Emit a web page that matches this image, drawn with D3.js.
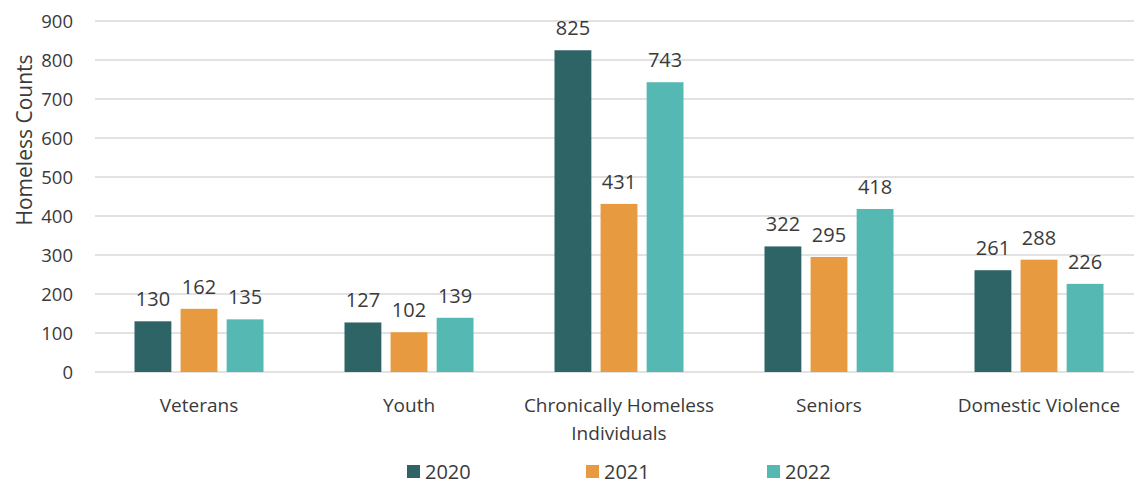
<!DOCTYPE html>
<html><head><meta charset="utf-8">
<script src="https://cdn.jsdelivr.net/npm/d3@7"></script>
<style>body{margin:0;background:#fff}svg{display:block}text{font-family:"Open Sans",Lato,sans-serif;fill:#3a3a3a}</style>
</head><body><svg id="c" width="1134" height="484"></svg>
<script>
const categories = [["Veterans"],["Youth"],["Chronically Homeless","Individuals"],["Seniors"],["Domestic Violence"]];
const seriesNames = ["2020","2021","2022"];
const values2020 = [130,127,825,322,261];
const values2021 = [162,102,431,295,288];
const values2022 = [135,139,743,418,226];
const yTicks = [0,100,200,300,400,500,600,700,800,900];
const colors = ["#2f6467","#e89a40","#56b8b3"];
const seriesValues = [values2020, values2021, values2022];

const svg = d3.select("#c");
const catKeys = categories.map(c=>c.join(" "));
const x0 = d3.scaleBand().domain(catKeys).range([94,1144]);
const x1 = d3.scaleBand().domain(seriesNames).range([-64.5,64.5]).paddingInner(0.2);
const y = d3.scaleLinear().domain([0,900]).range([372,21]);

svg.append("g").selectAll("line").data(yTicks).join("line")
  .attr("x1",95).attr("x2",1134).attr("y1",d=>y(d)).attr("y2",d=>y(d))
  .attr("stroke","#d9d9d9").attr("stroke-width",1.3);

const yAxis = d3.axisLeft(y).tickValues(yTicks).tickSize(0).tickPadding(0);
const ga = svg.append("g").attr("transform","translate(73,0)").call(yAxis);
ga.select(".domain").remove();
ga.selectAll("text").attr("font-size",18.5).style("font-family","'Open Sans', sans-serif").attr("fill","#3a3a3a").attr("dy","0.35em");

svg.append("text").attr("transform","translate(32,140) rotate(-90)")
  .attr("text-anchor","middle").attr("font-size",21).text("Homeless Counts");

const center = d => x0(d)+x0.bandwidth()/2;
seriesNames.forEach((s,si)=>{
  const g = svg.append("g");
  g.selectAll("rect").data(catKeys).join("rect")
    .attr("x",(d)=>center(d)+x1(s)).attr("width",x1.bandwidth())
    .attr("y",(d,i)=>y(seriesValues[si][i])).attr("height",(d,i)=>y(0)-y(seriesValues[si][i]))
    .attr("fill",colors[si]);
  g.selectAll("text").data(catKeys).join("text")
    .attr("x",d=>center(d)+x1(s)+x1.bandwidth()/2)
    .attr("y",(d,i)=>y(seriesValues[si][i])-15)
    .attr("text-anchor","middle").attr("font-size",20)
    .text((d,i)=>seriesValues[si][i]);
});

categories.forEach((lines,i)=>{
  const t = svg.append("text").attr("text-anchor","middle").attr("font-size",19)
    .attr("x",center(catKeys[i])).attr("y",412);
  lines.forEach((ln,j)=>t.append("tspan").attr("x",center(catKeys[i])).attr("dy",j?28:0).text(ln));
});

const legX = [407,586,767];
seriesNames.forEach((s,i)=>{
  svg.append("rect").attr("x",legX[i]).attr("y",465).attr("width",13).attr("height",13).attr("fill",colors[i]);
  svg.append("text").attr("x",legX[i]+18).attr("y",479).attr("font-size",20).text(s);
});
</script></body></html>
